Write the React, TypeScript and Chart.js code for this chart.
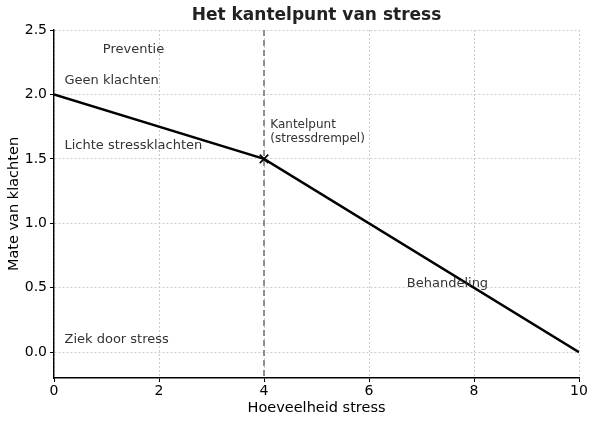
import React, { useEffect, useRef } from "react";
import { Chart, registerables } from "chart.js";

Chart.register(...registerables);

const stressLevels = [0, 4, 10];
const complaintLevels = [2.0, 1.5, 0.0];
const tippingPoint = { x: 4, y: 1.5 };
const xTicks = [0, 2, 4, 6, 8, 10];
const yTicks = [0.0, 0.5, 1.0, 1.5, 2.0, 2.5];
const xRange = [0, 10];
const yRange = [-0.2, 2.5];

const noteTexts = ["Preventie", "Geen klachten", "Lichte stressklachten", "Ziek door stress", "Behandeling"];
const noteX = [0.93, 0.2, 0.2, 0.2, 6.72];
const noteY = [2.35, 2.11, 1.6, 0.1, 0.53];
const tipLabel = ["Kantelpunt", "(stressdrempel)"];
const tipLabelPos = { x: 4.12, y: 1.71 };

const FONT = "'DejaVu Sans', sans-serif";

const annotationPlugin = {
  id: "notes",
  beforeDatasetsDraw(chart: any) {
    const { ctx, scales } = chart;
    const xs = scales.x;
    const ys = scales.y;
    const px = xs.getPixelForValue(tippingPoint.x);
    ctx.save();
    ctx.strokeStyle = "#777777";
    ctx.lineWidth = 1.6;
    ctx.setLineDash([6, 4]);
    ctx.beginPath();
    ctx.moveTo(px, ys.getPixelForValue(yRange[1]));
    ctx.lineTo(px, ys.getPixelForValue(yRange[0]));
    ctx.stroke();
    ctx.restore();
  },
  afterDatasetsDraw(chart: any) {
    const { ctx, scales } = chart;
    const xs = scales.x;
    const ys = scales.y;
    ctx.save();
    ctx.fillStyle = "#333333";
    ctx.textAlign = "left";
    ctx.textBaseline = "middle";
    ctx.font = `13px ${FONT}`;
    noteTexts.forEach((t, i) => {
      ctx.fillText(t, xs.getPixelForValue(noteX[i]), ys.getPixelForValue(noteY[i]));
    });
    ctx.font = `12px ${FONT}`;
    const bx = xs.getPixelForValue(tipLabelPos.x);
    const by = ys.getPixelForValue(tipLabelPos.y);
    ctx.fillText(tipLabel[0], bx, by - 7);
    ctx.fillText(tipLabel[1], bx, by + 7);
    // title
    ctx.fillStyle = "#222222";
    ctx.textAlign = "center";
    ctx.font = `bold 17px ${FONT}`;
    ctx.fillText("Het kantelpunt van stress", (chart.chartArea.left + chart.chartArea.right) / 2, 16);
    ctx.restore();
  },
};

export default function App() {
  const ref = useRef<HTMLCanvasElement>(null);
  useEffect(() => {
    if (!ref.current) return;
    const chart = new Chart(ref.current, {
      type: "line",
      data: {
        datasets: [
          {
            data: stressLevels.map((x, i) => ({ x, y: complaintLevels[i] })),
            borderColor: "#000000",
            borderWidth: 2.5,
            pointRadius: 0,
            tension: 0,
          },
          {
            data: [tippingPoint],
            showLine: false,
            pointStyle: "crossRot",
            pointRadius: 6,
            pointBorderWidth: 1.6,
            pointBorderColor: "#000000",
            pointBackgroundColor: "#000000",
          },
        ],
      },
      options: {
        animation: false,
        responsive: false,
        layout: { padding: { top: 30, right: 19, left: 0, bottom: 0 } },
        plugins: { legend: { display: false }, tooltip: { enabled: false }, title: { display: false } },
        scales: {
          x: {
            type: "linear",
            min: xRange[0],
            max: xRange[1],
            afterBuildTicks: (s: any) => {
              s.ticks = xTicks.map((v) => ({ value: v }));
            },
            afterFit: (s: any) => {
              s.height = 47;
            },
            ticks: { color: "#000", font: { family: FONT, size: 14 }, padding: 1, maxRotation: 0, callback: (v: any) => String(v) },
            grid: { color: "#cccccc", lineWidth: 1, tickColor: "#000", tickLength: 4, tickBorderDash: [], tickWidth: 1 } as any,
            border: { display: true, color: "#000", width: 1.4, dash: [2, 2] } as any,
            title: { display: true, text: "Hoeveelheid stress", color: "#000", font: { family: FONT, size: 14.5 }, padding: { top: 0, bottom: 8 } },
          },
          y: {
            type: "linear",
            min: yRange[0],
            max: yRange[1],
            afterBuildTicks: (s: any) => {
              s.ticks = yTicks.map((v) => ({ value: v }));
            },
            afterFit: (s: any) => {
              s.width = 54;
            },
            ticks: { color: "#000", font: { family: FONT, size: 14 }, padding: 3, callback: (v: any) => Number(v).toFixed(1) },
            grid: { color: "#cccccc", lineWidth: 1, tickColor: "#000", tickLength: 4, tickWidth: 1 } as any,
            border: { display: true, color: "#000", width: 1.4, dash: [2, 2] } as any,
            title: { display: true, text: "Mate van klachten", color: "#000", font: { family: FONT, size: 14.5 }, padding: { top: 6, bottom: 0 } },
          },
        },
      } as any,
      plugins: [annotationPlugin],
    });
    return () => chart.destroy();
  }, []);
  return (
    <div style={{ position: "absolute", left: 0, top: 0, width: 598, height: 425, background: "#fff" }}>
      <canvas ref={ref} width={598} height={425} />
    </div>
  );
}
